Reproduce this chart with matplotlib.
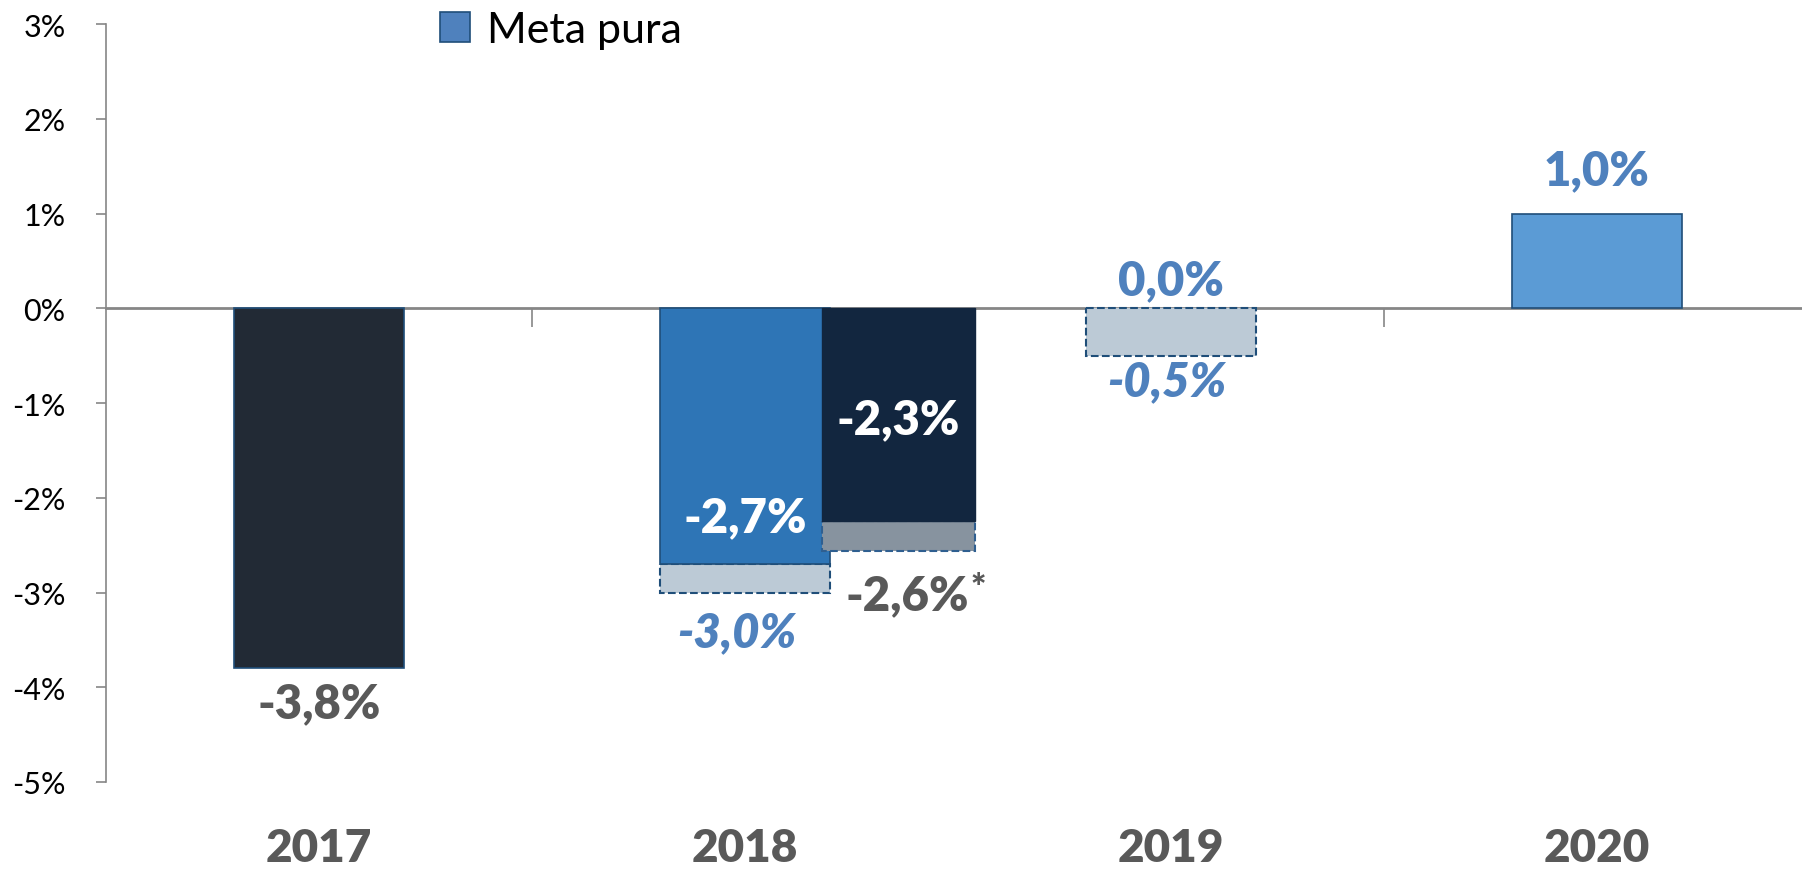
import matplotlib
matplotlib.use("Agg")
import matplotlib.pyplot as plt
import numpy as np
from matplotlib.patches import Patch

plt.rcParams["font.family"] = ["Lato", "DejaVu Sans"]

YEARS = ["2017", "2018", "2019", "2020"]

# main bar of each year (centered on the category)
META_PURA = [-3.8, -2.7, np.nan, 1.0]
# lower dashed band under the main bar (range of the target)
META_EXT = [np.nan, -3.0, -0.5, np.nan]
# second 2018 bar (right, navy) and its dashed band
REVISTA = [np.nan, -2.25, np.nan, np.nan]
REVISTA_EXT = [np.nan, -2.56, np.nan, np.nan]

MAIN_LABELS = ["-3,8%", "-2,7%", "0,0%", "1,0%"]
EXT_LABELS = ["", "-3,0%", "-0,5%", ""]
REVISTA_LABEL = "-2,3%"
REVISTA_EXT_LABEL = "-2,6%"

MAIN_COLORS = ["#222a35", "#2e75b6", "#bccad6", "#5b9bd5"]
EDGE = "#1f4e79"
GRAY_TXT = "#595959"
BLUE_TXT = "#4f81bd"


def main():
    fig = plt.figure(figsize=(18.02, 8.70), dpi=100)
    ax = fig.add_axes([106 / 1802, 1 - 783 / 870, 1 - 106 / 1802, (783 - 25) / 870])

    x = np.arange(len(YEARS))
    w = 0.40

    # dashed lower bands first
    for i in x:
        if not np.isnan(META_EXT[i]):
            top = 0 if np.isnan(META_PURA[i]) else META_PURA[i]
            ax.bar(i, META_EXT[i] - top, bottom=top, width=w, color="#bccad6",
                   edgecolor=EDGE, linestyle="--", linewidth=1.5, zorder=2)
    for i in x:
        if not np.isnan(META_PURA[i]):
            ax.bar(i, META_PURA[i], width=w, color=MAIN_COLORS[i], edgecolor=EDGE,
                   linewidth=1.2, zorder=3)

    off = 0.36
    for i in x:
        if not np.isnan(REVISTA[i]):
            ax.bar(i + off, REVISTA_EXT[i] - REVISTA[i], bottom=REVISTA[i], width=0.36,
                   color="#87939f", edgecolor="#2f5f90", linestyle="--", linewidth=1.5, zorder=4)
            ax.bar(i + off, REVISTA[i], width=0.36, color="#12263f", edgecolor="#12263f",
                   linewidth=1.0, zorder=5)

    # value labels
    big = 34
    wt = "heavy"
    ax.text(0, META_PURA[0] - 0.37, MAIN_LABELS[0], ha="center", va="center",
            fontsize=big, fontweight=wt, color=GRAY_TXT, zorder=6)
    ax.text(1, META_PURA[1] + 0.49, MAIN_LABELS[1], ha="center", va="center",
            fontsize=big, fontweight=wt, color="white", zorder=6)
    ax.text(0.98, META_EXT[1] - 0.42, EXT_LABELS[1], ha="center", va="center",
            fontsize=big, fontweight=wt, style="italic", color=BLUE_TXT, zorder=6)
    ax.text(2, 0.30, MAIN_LABELS[2], ha="center", va="center",
            fontsize=big, fontweight=wt, color=BLUE_TXT, zorder=6)
    ax.text(1.99, META_EXT[2] - 0.27, EXT_LABELS[2], ha="center", va="center",
            fontsize=big, fontweight=wt, style="italic", color=BLUE_TXT, zorder=6)
    ax.text(3, META_PURA[3] + 0.46, MAIN_LABELS[3], ha="center", va="center",
            fontsize=big, fontweight=wt, color=BLUE_TXT, zorder=6)
    ax.text(1 + off, REVISTA[1] + 1.08, REVISTA_LABEL, ha="center", va="center",
            fontsize=big, fontweight=wt, color="white", zorder=6)
    t = ax.text(1 + off + 0.02, REVISTA_EXT[1] - 0.47, REVISTA_EXT_LABEL, ha="center", va="center",
                fontsize=big, fontweight=wt, color=GRAY_TXT, zorder=6)
    ax.annotate("*", xy=(1, 1), xycoords=t, xytext=(1, 2), textcoords="offset points",
                ha="left", va="top", fontsize=26, fontweight=wt, color=GRAY_TXT)

    # axes styling
    ax.set_ylim(-5, 3)
    ax.set_xlim(-0.5, -0.5 + (1802 - 106) / 426)
    ax.set_yticks(range(-5, 4))
    ax.set_yticklabels([f"{v}%" for v in range(-5, 4)], fontsize=22, color="black")
    ax.tick_params(axis="y", length=7, width=1.2, color="#868686", pad=22)

    for s in ("top", "right"):
        ax.spines[s].set_visible(False)
    ax.spines["left"].set_color("#868686")
    ax.spines["left"].set_linewidth(1.2)
    ax.spines["bottom"].set_position(("data", 0))
    ax.spines["bottom"].set_color("#868686")
    ax.spines["bottom"].set_linewidth(2)
    ax.spines["bottom"].set_zorder(1)
    ax.set_xticks([0.5, 1.5, 2.5])
    ax.set_xticklabels([])
    ax.tick_params(axis="x", length=14, width=1.2, color="#868686", direction="out")

    for i, yr in enumerate(YEARS):
        ax.text(i, -0.087, yr, transform=ax.get_xaxis_transform(), ha="center", va="center",
                fontsize=33, fontweight=wt, color=GRAY_TXT)

    handle = Patch(facecolor=BLUE_TXT, edgecolor=EDGE, linewidth=1.2)
    fig.legend([handle], ["Meta pura"], loc="center left",
               bbox_to_anchor=(440 / 1802, 1 - 31 / 870), frameon=False,
               fontsize=31, handlelength=0.7, handleheight=0.7, handletextpad=0.4,
               borderpad=0, borderaxespad=0)

    fig.savefig("out.png", dpi=100)
    plt.close(fig)


if __name__ == "__main__":
    main()
